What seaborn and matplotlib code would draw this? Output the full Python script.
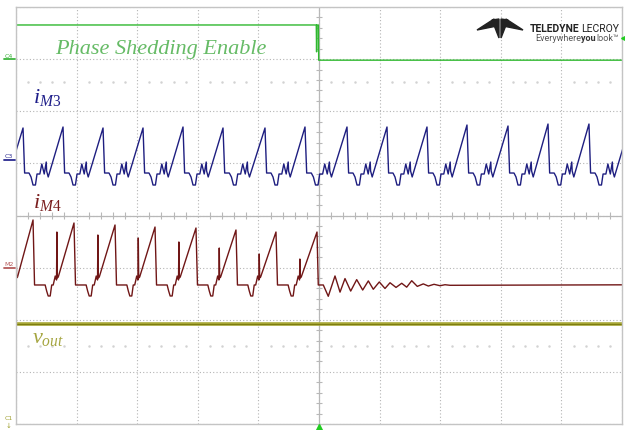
import numpy as np
import matplotlib
matplotlib.use("Agg")
import matplotlib.pyplot as plt
import seaborn as sns
from matplotlib.lines import Line2D
from matplotlib.patches import Polygon

W, H = 625, 431

# --- traces, in screen divisions (10 x 8 grid, centre at (5, 0)) ---
# C4: phase shedding enable
enable_t = [0.0, 4.955, 4.96, 4.965, 4.99, 4.995, 10.0]
enable_v = [3.655, 3.655, 3.14, 3.655, 3.655, 2.98, 2.98]

# C3: i_M3, one entry per switching cycle (peak time, peak level)
m3_peak_t = [-0.551, 0.116, 0.776, 1.436, 2.096, 2.756, 3.416, 4.109, 4.769,
             5.462, 6.122, 6.782, 7.442, 8.119, 8.779, 9.455, 10.12]
m3_peak_v = [1.70, 1.679, 1.698, 1.679, 1.679, 1.698, 1.679, 1.679, 1.698,
             1.698, 1.698, 1.698, 1.736, 1.717, 1.755, 1.755, 1.70]
# waveform after each peak: (fraction of the cycle, level)
m3_shape_ph = [0.04, 0.15, 0.20, 0.25, 0.31, 0.35, 0.42, 0.47, 0.53, 0.58, 0.59, 0.63]
m3_shape_v = [0.815, 0.815, 0.739, 0.585, 0.585, 0.796, 0.796, 0.988, 0.796, 1.026, 0.854, 0.739]

# M2: i_M4, switching until the enable edge, then ringing down
m4_peak_t = [-0.386, 0.281, 0.957, 1.634, 2.294, 2.970, 3.630, 4.290, 4.967]
m4_peak_v = [-0.05, -0.086, -0.144, -0.182, -0.221, -0.240, -0.278, -0.317, -0.317]
m4_spike_v = [-0.317, -0.317, -0.374, -0.432, -0.508, -0.624, -0.739, -0.835]
m4_shape_ph = [0.037, 0.296, 0.333, 0.37, 0.419, 0.456, 0.493, 0.542, 0.574, 0.582, 0.592, 0.616]
m4_shape_v = [-1.333, -1.333, -1.449, -1.544, -1.544, -1.333, -1.333, -1.161, -1.237, np.nan, -1.199, -1.180]
ring_t = [4.988, 5.071, 5.153, 5.264, 5.347, 5.429, 5.523, 5.622, 5.721, 5.814,
          5.896, 5.995, 6.089, 6.172, 6.271, 6.365, 6.447, 6.530, 6.622, 6.721,
          6.804, 6.898, 6.997, 7.079, 7.162, 10.0]
ring_v = [-1.333, -1.333, -1.550, -1.160, -1.470, -1.210, -1.450, -1.230, -1.430, -1.255,
          -1.415, -1.275, -1.400, -1.290, -1.380, -1.300, -1.375, -1.251, -1.360, -1.312,
          -1.353, -1.320, -1.347, -1.328, -1.339, -1.330]

# C1: output voltage
vout_t = [0.0, 10.0]
vout_v = [-2.082, -2.082]


def build_cycles(peak_t, peak_v, shape_ph, shape_v, spikes=None):
    t, v = [], []
    for k in range(len(peak_t) - 1):
        period = peak_t[k + 1] - peak_t[k]
        t.append(peak_t[k])
        v.append(peak_v[k])
        for ph, val in zip(shape_ph, shape_v):
            if np.isnan(val):
                val = spikes[k]
            t.append(peak_t[k] + ph * period)
            v.append(val)
    t.append(peak_t[-1])
    v.append(peak_v[-1])
    return t, v


m3_t, m3_v = build_cycles(m3_peak_t, m3_peak_v, m3_shape_ph, m3_shape_v)
m4_t, m4_v = build_cycles(m4_peak_t, m4_peak_v, m4_shape_ph, m4_shape_v, m4_spike_v)
m4_t += ring_t
m4_v += ring_v


def fx(px):
    return px / W


def fy(py):
    return 1 - py / H


sns.set_theme(style="white")
plt.rcParams["mathtext.fontset"] = "custom"
plt.rcParams["mathtext.it"] = "Liberation Serif:italic"
plt.rcParams["mathtext.rm"] = "Liberation Serif"

fig = plt.figure(figsize=(W / 100, H / 100), dpi=100)
fig.patch.set_facecolor("white")
ax = fig.add_axes([fx(16), 1 - 425 / H, 606 / W, 417 / H])
ax.set_xlim(0, 10)
ax.set_ylim(-4, 4)

# graticule
ax.set_xticks(range(11))
ax.set_yticks(range(-4, 5))
ax.grid(True, color="#b4b4b4", lw=0.8, ls=(0, (1, 2)))
ax.tick_params(length=0, labelbottom=False, labelleft=False)
for sp in ax.spines.values():
    sp.set_color("#c4c4c4")
    sp.set_linewidth(1.0)
ax.axvline(5, color="#b8b8b8", lw=0.9, zorder=1)
ax.axhline(0, color="#b8b8b8", lw=0.9, zorder=1)
minor_x = [i / 5 for i in range(51) if i % 5]
minor_y = [i / 5 for i in range(-20, 21) if i % 5]
ax.vlines(minor_x, -0.06, 0.06, color="#b8b8b8", lw=0.8, zorder=1)
ax.hlines(minor_y, 4.95, 5.05, color="#b8b8b8", lw=0.8, zorder=1)
ax.scatter(minor_x, [2.56] * len(minor_x), s=0.6, color="#d2d2d2", zorder=1)
ax.scatter(minor_x, [-2.5] * len(minor_x), s=0.6, color="#d2d2d2", zorder=1)

# traces
kw = dict(sort=False, estimator=None, errorbar=None, ax=ax, legend=False)
sns.lineplot(x=vout_t, y=vout_v, color="#a8a838", lw=2.6, **kw)
sns.lineplot(x=vout_t, y=vout_v, color="#7d7d10", lw=0.8, **kw)
sns.lineplot(x=enable_t, y=enable_v, color="#2fb82f", lw=1.0, **kw)
sns.lineplot(x=m3_t, y=m3_v, color="#1e1e80", lw=1.0, **kw)
sns.lineplot(x=m4_t, y=m4_v, color="#701616", lw=1.0, **kw)

# labels
ax.text(0.644, 3.118, "Phase Shedding Enable", family="Liberation Serif", style="italic",
        fontsize=16, color="#66bb66", va="baseline")
ax.text(0.28, 2.18, r"$\mathit{i}_{\mathit{M3}}$", fontsize=16, color="#1e1e8a", va="baseline")
ax.text(0.28, 0.16, r"$\mathit{i}_{\mathit{M4}}$", fontsize=16, color="#7a1e1e", va="baseline")
ax.text(0.27, -2.43, r"$\mathit{v}_{\mathit{out}}$", fontsize=16, color="#a5a540", va="baseline")

# channel markers on the left edge
for txt, py, col in [("C4", 56, "#3cb43c"), ("C3", 157, "#2a2a90"), ("M2", 265, "#b45a5a")]:
    fig.text(fx(9), fy(py), txt, fontsize=4.5, color=col, ha="center", va="center")
    fig.add_artist(Line2D([fx(4), fx(15)], [fy(py + 3.5)] * 2, color=col, lw=1.3,
                          transform=fig.transFigure))
fig.text(fx(9), fy(419), "C1", fontsize=4.5, color="#a0a030", ha="center", va="center")
fig.text(fx(9), fy(426), "\u2193", fontsize=5, color="#a0a030", ha="center", va="center")

# trigger markers
ax.plot([5], [-4.05], marker="^", ms=5, color="#22cc22", clip_on=False, zorder=5)
ax.plot([10.04], [3.405], marker="<", ms=4, color="#22cc22", clip_on=False, zorder=5)

# logo
for tri in [[(477, 31), (494, 20), (497, 27)],
            [(492, 21), (499, 20), (499, 39)],
            [(501, 20), (508, 21), (501, 39)],
            [(523, 31), (506, 20), (503, 27)]]:
    fig.add_artist(Polygon([(fx(a), fy(b)) for a, b in tri], closed=True,
                           color="#222222", transform=fig.transFigure))
logo = dict(family="Roboto", ha="right", va="bottom")
t_lec = fig.text(fx(619), fy(34), "LECROY", fontsize=7.5, color="#222222", **logo)
ax.annotate("TELEDYNE", xy=(0, 0), xycoords=t_lec, xytext=(-1.5, 0),
            textcoords="offset points", fontsize=7.5, weight="bold", color="#222222", **logo)
t_look = fig.text(fx(619), fy(43), "look\u2122", fontsize=6.5, color="#555555", **logo)
t_you = ax.annotate("you", xy=(0, 0), xycoords=t_look, xytext=(-0.3, 0),
                    textcoords="offset points", fontsize=6.5, weight="bold",
                    color="#333333", **logo)
ax.annotate("Everywhere", xy=(0, 0), xycoords=t_you, xytext=(-0.3, 0),
            textcoords="offset points", fontsize=6.5, color="#555555", **logo)

fig.savefig("out.png", dpi=100)
